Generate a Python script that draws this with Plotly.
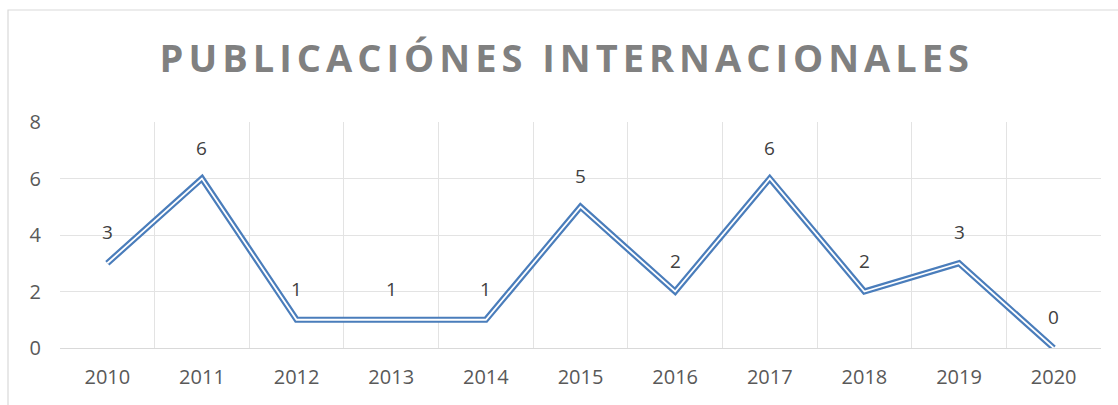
import plotly.graph_objects as go

years = ["2010", "2011", "2012", "2013", "2014", "2015", "2016", "2017", "2018", "2019", "2020"]
values = [3, 6, 1, 1, 1, 5, 2, 6, 2, 3, 0]
y_ticks = [0, 2, 4, 6, 8]
title_text = "PUBLICACIÓNES INTERNACIONALES"

blue = "#4a7dbb"
fig = go.Figure()
fig.add_trace(go.Scatter(x=years, y=values, mode="lines",
                         line=dict(color=blue, width=6.2), hoverinfo="skip", showlegend=False))
fig.add_trace(go.Scatter(x=years, y=values, mode="lines",
                         line=dict(color="white", width=1.8), hoverinfo="skip", showlegend=False))

for i, v in enumerate(values):
    fig.add_annotation(x=i, y=v, text=str(v), showarrow=False, yshift=31,
                       font=dict(family="Open Sans", size=19, color="#404040"))

fig.add_shape(type="rect", xref="paper", yref="paper",
              x0=(8 - 60) / 1041, x1=1.2, y0=(348 - 10) / 226, y1=-1,
              line=dict(color="#d9d9d9", width=1.2), fillcolor="rgba(0,0,0,0)", layer="below")

fig.update_layout(
    width=1118, height=405,
    margin=dict(l=60, r=17, t=122, b=57),
    paper_bgcolor="white", plot_bgcolor="white",
    title=dict(text=title_text, x=0.507, xanchor="center", y=(405 - 59) / 405, yanchor="middle",
               font=dict(family="Open Sans", size=38, color="#808080", weight="bold")),
    xaxis=dict(type="category", tickson="boundaries", showgrid=True, gridcolor="#e3e3e3", gridwidth=1,
               ticks="", showline=True, linecolor="#d9d9d9", linewidth=1, mirror=False,
               tickfont=dict(family="Open Sans", size=20, color="#595959"),
               ticklabelstandoff=11, range=[-0.5, 10.5]),
    yaxis=dict(range=[0, 8], tickvals=y_ticks, showgrid=True, gridcolor="#e3e3e3", gridwidth=1,
               zeroline=False, ticks="", showline=False,
               tickfont=dict(family="Open Sans", size=20, color="#595959"),
               ticklabelstandoff=18),
)

post = """
document.body.style.margin='0';
document.documentElement.style.margin='0';
var gd = document.getElementById('{plot_id}');
function sp(){ document.querySelectorAll('.gtitle').forEach(function(e){ e.style.letterSpacing='5px'; }); }
sp();
if (gd && gd.on) { gd.on('plotly_afterplot', sp); }
"""
fig.write_html("out.html", post_script=post, config={"displayModeBar": False})
